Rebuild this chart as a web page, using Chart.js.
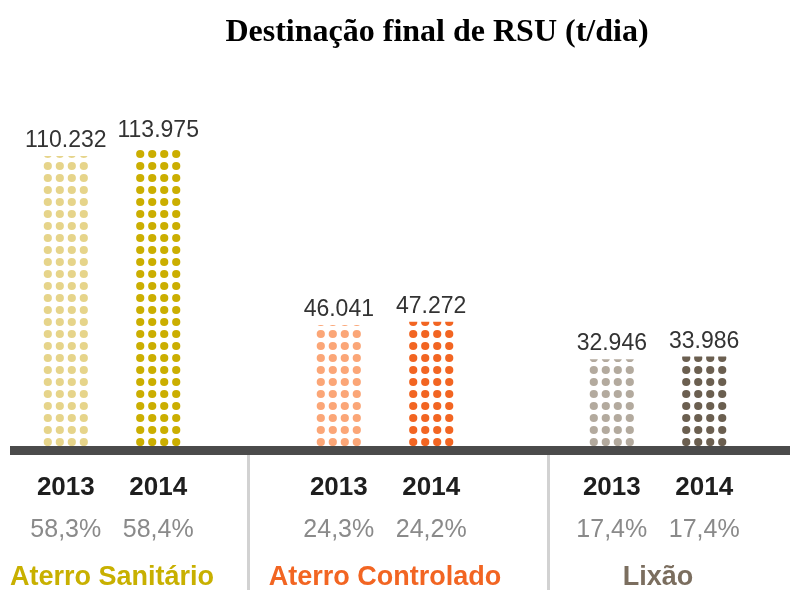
<!DOCTYPE html>
<html><head><meta charset="utf-8">
<script src="https://cdn.jsdelivr.net/npm/chart.js@4"></script>
<style>html,body{margin:0;padding:0;background:#fff}#wrap{width:790px;height:590px}</style>
</head><body><div id="wrap"><canvas id="c" width="790" height="590"></canvas></div>
<script>
const categories = ['Aterro Sanitário', 'Aterro Controlado', 'Lixão'];
const years = ['2013', '2014'];
const values2013 = [110232, 46041, 32946];
const values2014 = [113975, 47272, 33986];
const share2013 = [58.3, 24.3, 17.4];
const share2014 = [58.4, 24.2, 17.4];
const separatorsAt = [0.5, 1.6];

const colors2013 = ['#e6d48a', '#fba677', '#b3aa9e'];
const colors2014 = ['#cbae00', '#f26522', '#6b5f50'];
const categoryColors = ['#c8b000', '#f26522', '#7b6e5f'];

const fmtThousands = v => String(v).replace(/\B(?=(\d{3})+(?!\d))/g, '.');
const fmtPct = v => v.toFixed(1).replace('.', ',') + '%';

const dotPlugin = {
  id: 'dots',
  beforeDatasetDraw(chart, args) {
    const ctx = chart.ctx;
    args.meta.data.forEach(bar => {
      const p = bar.getProps(['x', 'y', 'base', 'width'], true);
      const left = p.x - p.width / 2;
      const top = Math.min(p.y, p.base), bottom = Math.max(p.y, p.base);
      ctx.save();
      ctx.beginPath(); ctx.rect(left, top, p.width, bottom - top); ctx.clip();
      ctx.fillStyle = bar.options.backgroundColor;
      const step = 12, r = 4.1;
      const cols = Math.round(p.width / step);
      const x0 = p.x - (cols - 1) * step / 2;
      for (let yy = bottom - 4; yy > top - r; yy -= step) {
        for (let c = 0; c < cols; c++) {
          ctx.beginPath(); ctx.arc(x0 + c * step, yy, r, 0, Math.PI * 2); ctx.fill();
        }
      }
      ctx.restore();
    });
    return false;
  },
  afterDatasetsDraw(chart) {
    const ctx = chart.ctx;
    const base = chart.scales.y.getPixelForValue(0);
    const xs = chart.scales.x;
    ctx.save();
    ctx.fillStyle = '#d2d2d2';
    separatorsAt.forEach(v => {
      const px = xs.getPixelForValue(v);
      ctx.fillRect(Math.round(px) - 2, base + 9, 3, chart.height - base - 9);
    });
    ctx.fillStyle = '#4b4b4b';
    ctx.fillRect(10, base, chart.width - 10, 9);
    ctx.textAlign = 'center';
    ctx.textBaseline = 'alphabetic';
    const shares = [share2013, share2014];
    chart.data.datasets.forEach((ds, di) => {
      const meta = chart.getDatasetMeta(di);
      meta.data.forEach((bar, i) => {
        const p = bar.getProps(['x', 'y'], true);
        ctx.fillStyle = '#333333';
        ctx.font = '23px "Liberation Sans", Arial, sans-serif';
        ctx.fillText(fmtThousands(ds.data[i].y), p.x, p.y - 9);
        ctx.fillStyle = '#1e1e1e';
        ctx.font = 'bold 26px "Liberation Sans", Arial, sans-serif';
        ctx.fillText(ds.label, p.x, base + 49);
        ctx.fillStyle = '#8a8a8a';
        ctx.font = '25px "Liberation Sans", Arial, sans-serif';
        ctx.fillText(fmtPct(shares[di][i]), p.x, base + 91);
      });
    });
    categories.forEach((name, i) => {
      ctx.fillStyle = categoryColors[i];
      ctx.font = 'bold 27px "Liberation Sans", Arial, sans-serif';
      ctx.fillText(name, xs.getPixelForValue(i), base + 139);
    });
    ctx.restore();
  }
};

new Chart(document.getElementById('c'), {
  type: 'bar',
  data: {
    datasets: [
      { label: years[0], data: values2013.map((v, i) => ({ x: i, y: v })), backgroundColor: colors2013 },
      { label: years[1], data: values2014.map((v, i) => ({ x: i, y: v })), backgroundColor: colors2014 }
    ]
  },
  options: {
    responsive: false,
    animation: false,
    devicePixelRatio: 1,
    categoryPercentage: 0.677,
    barPercentage: 0.519,
    layout: { padding: { left: 84, right: 0, top: 0, bottom: 144 } },
    plugins: {
      legend: { display: false },
      tooltip: { enabled: false },
      title: {
        display: true,
        text: 'Destinação final de RSU (t/dia)',
        color: '#000',
        font: { family: '"Liberation Serif", "Times New Roman", serif', size: 32, weight: 'bold' },
        padding: { top: 14, bottom: 7 }
      }
    },
    scales: {
      x: {
        type: 'linear', display: false, min: -0.1026, max: 2.4835, offset: false,
        afterBuildTicks: axis => { axis.ticks = categories.map((c, i) => ({ value: i })); }
      },
      y: { display: false, min: 0, max: 147000 }
    }
  },
  plugins: [dotPlugin]
});
</script></body></html>
